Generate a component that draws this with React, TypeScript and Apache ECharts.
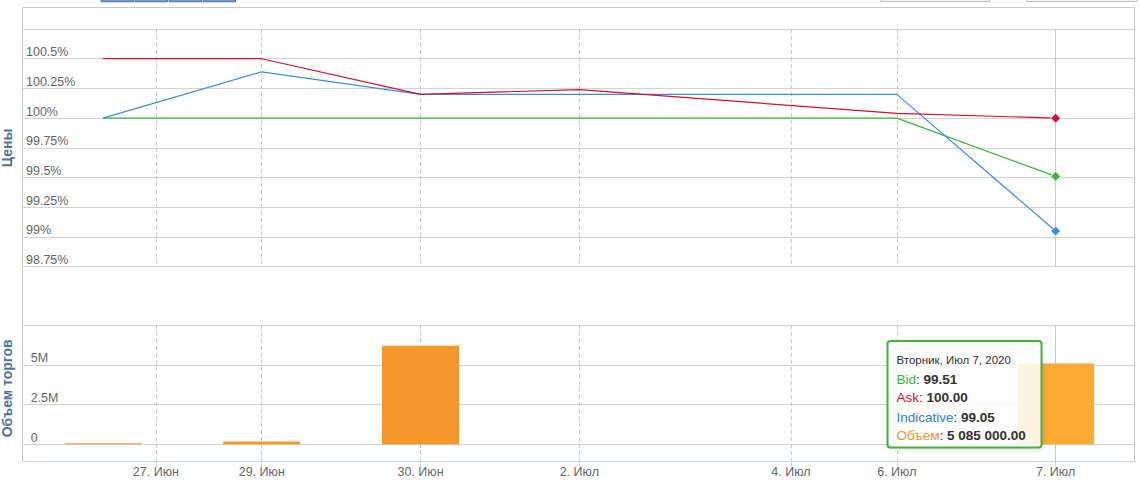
import React, { useEffect, useRef } from 'react';
import * as echarts from 'echarts';

// ---- data ----
const dates = ['26.06.2020', '29.06.2020', '30.06.2020', '02.07.2020', '03.07.2020', '06.07.2020', '07.07.2020'];
const xPos = [0, 1, 2, 3, 4, 5, 6]; // ordinal positions of trading days
const bid = [100, 100, 100, 100, 100, 100, 99.51];
const ask: (number | null)[] = [100.5, 100.5, 100.2, 100.24, null, 100.04, 100.0];
const indicative = [100, 100.39, 100.2, 100.2, 100.2, 100.2, 99.05];
const volume = [60000, 170000, 6190000, 0, 0, 0, 5085000];

const xTickPos = [1 / 3, 1, 2, 3, 4 + 1 / 3, 5, 6];
const xTickLabels = ['27. Июн', '29. Июн', '30. Июн', '2. Июл', '4. Июл', '6. Июл', '7. Июл'];

const volGridValues = [0, 2500000, 5000000, 7500000];
const volLabelValues = [0, 2500000, 5000000];
const volLabels = ['0', '2.5M', '5M'];

const hoverIndex = 6;
const tooltipHeader = 'Вторник, Июл 7, 2020';

// ---- styles ----
const FONT = '"Liberation Sans", Arial, Helvetica, sans-serif';
const C_BID = '#3bb53b';
const C_ASK = '#d3122a';
const C_IND = '#3a8ee0';
const C_VOL = '#f7962b';
const C_VOL_HOVER = '#fdab35';
const X_MIN = -0.51;
const X_MAX = 6.5;
const VOL_MIN = -1094000;

function fmtX(v: number) {
  const i = xTickPos.findIndex((t) => Math.abs(t - v) < 1e-6);
  return i >= 0 ? xTickLabels[i] : '';
}

function fmtVol(v: number) {
  const s = Math.round(v).toString().replace(/\B(?=(\d{3})+(?!\d))/g, ' ');
  return s + '.00';
}

function xAxisFor(gridIndex: number, show: boolean) {
  return {
    type: 'value',
    gridIndex,
    min: X_MIN,
    max: X_MAX,
    axisLine: { show, onZero: false, lineStyle: { color: '#ccd6eb', width: 1 } },
    axisTick: { show, customValues: xTickPos, length: 5, lineStyle: { color: '#ccd6eb' } },
    axisLabel: {
      show,
      customValues: xTickPos,
      formatter: fmtX,
      color: '#666',
      fontSize: 12.5,
      fontFamily: FONT,
      margin: 4,
    },
    splitLine: { show: true, lineStyle: { color: '#c8c8c8', type: [4, 3], width: 1 } },
  };
}

function lineSeries(name: string, values: (number | null)[], color: string) {
  return {
    name,
    type: 'line',
    xAxisIndex: 0,
    yAxisIndex: 0,
    connectNulls: true,
    symbol: 'diamond',
    symbolSize: 10,
    showSymbol: true,
    itemStyle: { color, borderColor: '#fff', borderWidth: 1 },
    lineStyle: { color, width: 1.2 },
    data: values.map((v, i) => ({
      value: [xPos[i], v == null ? '-' : v],
      symbol: i === hoverIndex ? 'diamond' : 'none',
    })),
  };
}

function buildOption() {
  const nameStyle = { color: '#4d759e', fontWeight: 'bold', fontSize: 14, fontFamily: FONT };
  const tipX = 896.5;
  const TZ = 100;
  const tipRich = {
    g: { fill: C_BID, fontSize: 13.5, fontFamily: FONT },
    r: { fill: C_ASK, fontSize: 13.5, fontFamily: FONT },
    b: { fill: '#2f7fd8', fontSize: 13.5, fontFamily: FONT },
    o: { fill: '#f7932b', fontSize: 13.5, fontFamily: FONT },
    s: { fill: '#333', fontSize: 13.5, fontFamily: FONT },
    v: { fill: '#333', fontSize: 13.5, fontFamily: FONT, fontWeight: 'bold' },
  };
  const tipLines = [
    `{g|Bid}{s|: }{v|${bid[hoverIndex].toFixed(2)}}`,
    `{r|Ask}{s|: }{v|${(ask[hoverIndex] as number).toFixed(2)}}`,
    `{b|Indicative}{s|: }{v|${indicative[hoverIndex].toFixed(2)}}`,
    `{o|Объем}{s|: }{v|${fmtVol(volume[hoverIndex])}}`,
  ];
  const tipY = [379.3, 397.8, 417, 435.3];

  const topButtons: any[] = [];
  for (let i = 0; i < 4; i++) {
    topButtons.push({
      type: 'rect',
      silent: true,
      shape: { x: 101 + i * 34, y: -20, width: 32.5, height: 21.8 },
      style: { fill: '#7397c7', stroke: '#4a74a8', lineWidth: 1 },
    });
  }
  topButtons.push(
    {
      type: 'rect',
      silent: true,
      shape: { x: 881, y: -20, width: 109, height: 21.5 },
      style: { fill: '#f4f4f4', stroke: '#bdbdbd', lineWidth: 1 },
    },
    {
      type: 'rect',
      silent: true,
      shape: { x: 1027, y: -20, width: 110, height: 21.5 },
      style: { fill: '#f4f4f4', stroke: '#bdbdbd', lineWidth: 1 },
    }
  );

  return {
    animation: false,
    backgroundColor: '#fff',
    textStyle: { fontFamily: FONT },
    grid: [
      { left: 22, right: 5, top: 29, height: 237.7, outerBoundsMode: 'none' },
      { left: 22, right: 5, top: 325, height: 136.7, outerBoundsMode: 'none' },
    ],
    xAxis: [xAxisFor(0, false), xAxisFor(1, true)],
    yAxis: [
      {
        type: 'value',
        gridIndex: 0,
        min: 98.75,
        max: 100.75,
        interval: 0.25,
        position: 'left',
        name: 'Цены',
        nameLocation: 'middle',
        nameRotate: 90,
        nameGap: 8,
        nameTextStyle: nameStyle,
        axisLine: { show: false, onZero: false },
        axisTick: { show: false },
        axisLabel: {
          inside: true,
          margin: 4,
          verticalAlign: 'bottom',
          color: '#666',
          fontSize: 12.5,
          fontFamily: FONT,
          formatter: (v: number) => (v >= 100.75 ? '' : `${v}%`),
        },
        splitLine: { show: true, lineStyle: { color: '#d3d3d3', width: 1 } },
      },
      {
        type: 'value',
        gridIndex: 1,
        min: VOL_MIN,
        max: 7500000,
        position: 'left',
        name: 'Объем торгов',
        nameLocation: 'middle',
        nameRotate: 90,
        nameGap: 8,
        nameTextStyle: { ...nameStyle, padding: [0, 0, 0, 10] },
        axisLine: { show: false, onZero: false },
        axisTick: { show: false, customValues: volGridValues },
        axisLabel: {
          inside: true,
          margin: 8.7,
          verticalAlign: 'bottom',
          color: '#666',
          fontSize: 12.5,
          fontFamily: FONT,
          customValues: volLabelValues,
          formatter: (v: number) => {
            const i = volLabelValues.indexOf(v);
            return i >= 0 ? volLabels[i] : '';
          },
        },
        splitLine: { show: true, lineStyle: { color: '#d3d3d3', width: 1 } },
      },
    ],
    series: [
      {
        ...lineSeries('Bid', bid, C_BID),
        markLine: {
          silent: true,
          z: 1,
          symbol: ['none', 'none'],
          label: { show: false },
          lineStyle: { color: '#c8c8c8', type: 'solid', width: 1 },
          data: [{ xAxis: xPos[hoverIndex] }],
        },
      },
      lineSeries('Indicative', indicative, C_IND),
      lineSeries('Ask', ask, C_ASK),
      {
        name: 'Объем',
        type: 'bar',
        xAxisIndex: 1,
        yAxisIndex: 1,
        barWidth: 77,
        itemStyle: { color: C_VOL },
        data: volume.map((v, i) => ({
          value: [xPos[i], v],
          itemStyle: i === hoverIndex ? { color: C_VOL_HOVER } : undefined,
        })),
        markLine: {
          silent: true,
          z: 1,
          symbol: ['none', 'none'],
          label: { show: false },
          lineStyle: { color: '#c8c8c8', type: 'solid', width: 1 },
          data: [{ xAxis: xPos[hoverIndex] }],
        },
      },
    ],
    graphic: [
      {
        type: 'polyline',
        silent: true,
        z: 50,
        shape: { points: [[22.5, 461.5], [22.5, 7.5], [1134.5, 7.5], [1134.5, 461.5]] },
        style: { stroke: '#c8c8c8', lineWidth: 1, fill: null },
      },
      ...topButtons,
      {
        type: 'rect',
        z: TZ,
        silent: true,
        shape: { x: 887.5, y: 341, width: 154, height: 106.5, r: 3 },
        style: {
          fill: 'rgba(255,255,255,0.86)',
          stroke: '#45b23a',
          lineWidth: 2,
          shadowBlur: 4,
          shadowColor: 'rgba(0,0,0,0.15)',
          shadowOffsetX: 1,
          shadowOffsetY: 1,
        },
      },
      {
        type: 'text',
        z: TZ + 1,
        silent: true,
        x: tipX,
        y: 360.3,
        style: {
          text: tooltipHeader,
          fill: '#333',
          fontSize: 11.5,
          fontFamily: FONT,
          align: 'left',
          verticalAlign: 'middle',
        },
      },
      ...tipLines.map((t, i) => ({
        type: 'text',
        z: TZ + 1,
        silent: true,
        x: tipX,
        y: tipY[i],
        style: { text: t, rich: tipRich, align: 'left', verticalAlign: 'middle', fontSize: 13.5, fontFamily: FONT },
      })),
    ],
  };
}

export default function App() {
  const ref = useRef<HTMLDivElement>(null);
  useEffect(() => {
    if (!ref.current) return;
    const chart = echarts.init(ref.current, null, { renderer: 'svg' });
    chart.setOption(buildOption() as any);
    return () => chart.dispose();
  }, []);
  return (
    <div
      ref={ref}
      style={{ position: 'fixed', left: 0, top: 0, width: 1140, height: 482, background: '#fff' }}
    />
  );
}
